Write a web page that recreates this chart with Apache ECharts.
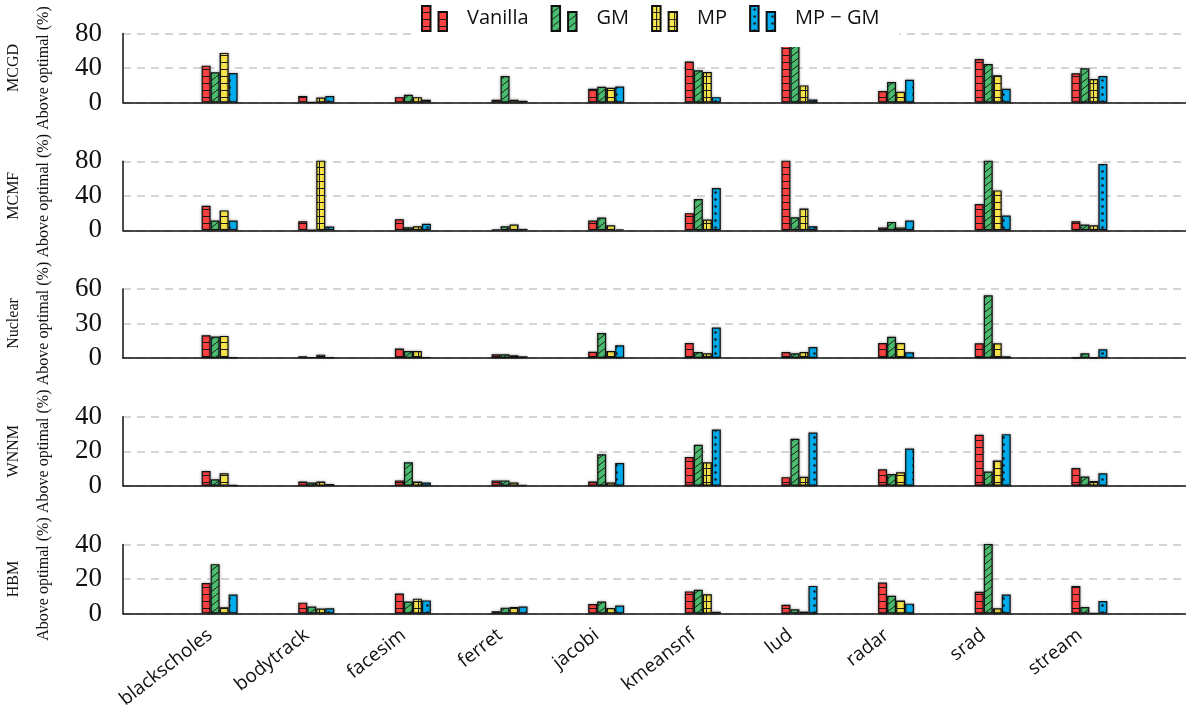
<!DOCTYPE html>
<html>
<head>
<meta charset="utf-8">
<script src="https://cdn.jsdelivr.net/npm/echarts@6/dist/echarts.min.js"></script>
<style>
html, body { margin: 0; padding: 0; background: #fff; }
#chart { width: 1186px; height: 706px; }
</style>
</head>
<body>
<div id="chart"></div>
<script>
const benchmarks = ['blackscholes', 'bodytrack', 'facesim', 'ferret', 'jacobi',
  'kmeansnf', 'lud', 'radar', 'srad', 'stream']
const panelNames = ['MCGD', 'MCMF', 'Nuclear', 'WNNM', 'HBM']
const yMax = [80, 80, 60, 40, 40]
const yStep = [40, 40, 30, 20, 20]
const methods = ['Vanilla', 'GM', 'MP', 'MP − GM']

// MCGD
const mcgdVanilla = [42.7, 7.4, 6.2, 3.1, 16, 47.4, 88, 13.2, 50.5, 33.8]
const mcgdGM      = [35, 0.3, 8.9, 30.7, 18.3, 37.3, 86, 23.7, 44.7, 39.6]
const mcgdMP      = [57.5, 5.8, 6.2, 3.1, 17, 35.3, 19.8, 12.4, 31.5, 27.2]
const mcgdMPGM    = [34.2, 7.4, 3.1, 2, 18.6, 6.2, 3.5, 26.4, 16, 30.7]
// MCMF
const mcmfVanilla = [28.3, 10.5, 12.8, 0.8, 11.3, 19.8, 95, 3.1, 30.3, 10.5]
const mcmfGM      = [11.3, 0.4, 3.5, 4.7, 14.8, 36.1, 15.1, 9.7, 95, 6.6]
const mcmfMP      = [23, 95, 4.7, 6.6, 5.8, 12.4, 25.2, 3.1, 46.2, 5.8]
const mcmfMPGM    = [11.3, 4.3, 7.4, 1.6, 1.2, 48.9, 4.7, 11.3, 17.1, 76.9]
// Nuclear
const nuclearVanilla = [19.8, 1.5, 8.2, 3.2, 5.5, 13.1, 5.2, 13.1, 12.8, 0.3]
const nuclearGM      = [18.6, 0.9, 6.1, 3.2, 21.8, 5.2, 4.1, 18.4, 54.5, 4.1]
const nuclearMP      = [19.2, 2.9, 6.1, 2.3, 6.1, 4.1, 5.2, 13.1, 12.8, 0.3]
const nuclearMPGM    = [0.6, 0.6, 0.9, 1.5, 11.1, 26.5, 9.6, 5, 1.5, 7.6]
// WNNM
const wnnmVanilla = [8.5, 2.5, 3.1, 3.1, 2.5, 16.7, 5, 9.5, 29.5, 10.3]
const wnnmGM      = [3.7, 1.9, 13.6, 3.1, 18.3, 23.7, 27.2, 6.8, 8.2, 5.4]
const wnnmMP      = [7.2, 2.5, 2.5, 1.9, 1.9, 13.6, 5.2, 7.8, 14.6, 2.7]
const wnnmMPGM    = [0.4, 1, 1.9, 0.6, 13.2, 32.6, 30.9, 21.6, 29.9, 7.2]
// HBM
const hbmVanilla = [17.7, 6.3, 11.6, 1.3, 5.5, 12.8, 5.1, 17.9, 12.6, 16]
const hbmGM      = [28.6, 4, 7, 3.4, 7, 13.7, 2.5, 10.3, 48, 3.8]
const hbmMP      = [3.6, 2.9, 8.6, 3.8, 3.2, 11.2, 1.1, 7.6, 3, 0.3]
const hbmMPGM    = [11, 3, 7.6, 4, 4.6, 1, 16, 5.7, 11, 7.2]

const panelData = [
  [mcgdVanilla, mcgdGM, mcgdMP, mcgdMPGM],
  [mcmfVanilla, mcmfGM, mcmfMP, mcmfMPGM],
  [nuclearVanilla, nuclearGM, nuclearMP, nuclearMPGM],
  [wnnmVanilla, wnnmGM, wnnmMP, wnnmMPGM],
  [hbmVanilla, hbmGM, hbmMP, hbmMPGM]
]

// hatch patterns
function makePattern(fill, kind) {
  const c = document.createElement('canvas')
  c.width = 9
  c.height = 7
  const ctx = c.getContext('2d')
  ctx.fillStyle = fill
  ctx.fillRect(0, 0, 9, 7)
  ctx.strokeStyle = '#1a1a1a'
  ctx.fillStyle = '#1a1a1a'
  ctx.lineWidth = 1
  if (kind === 'hlines') {
    ctx.beginPath(); ctx.moveTo(0, 6.5); ctx.lineTo(9, 6.5); ctx.stroke()
  } else if (kind === 'grid') {
    ctx.beginPath(); ctx.moveTo(0, 6.5); ctx.lineTo(9, 6.5); ctx.stroke()
    ctx.beginPath(); ctx.moveTo(4.5, 0); ctx.lineTo(4.5, 7); ctx.stroke()
  } else if (kind === 'diag') {
    ctx.beginPath(); ctx.moveTo(0, 7); ctx.lineTo(9, 0); ctx.stroke()
  } else if (kind === 'dots') {
    ctx.beginPath(); ctx.arc(4.5, 3.5, 1.3, 0, Math.PI * 2); ctx.fill()
  }
  return c
}
const fills = [
  makePattern('#ff4242', 'hlines'),
  makePattern('#4cbf70', 'diag'),
  makePattern('#f9e84c', 'grid'),
  makePattern('#00aeef', 'dots')
]

const top0 = 33.5
const step = 127.75
const plotH = 69

const grid = [], xAxis = [], yAxis = [], series = [], graphic = []
panelNames.forEach((name, p) => {
  const last = p === panelNames.length - 1
  // outerBoundsMode none: keep the plot box fixed, labels may go near the edge
  grid.push({left: 123, right: 0, top: top0 + p * step, height: plotH, outerBoundsMode: 'none'})
  xAxis.push({
    type: 'value',
    gridIndex: p,
    min: 0,
    max: 11,
    interval: 1,
    axisLine: {lineStyle: {color: '#111', width: 1.5}},
    axisTick: {show: false},
    splitLine: {show: false},
    axisLabel: {
      show: last,
      rotate: 38,
      margin: 12,
      padding: [0, 12, 0, 0],
      fontFamily: 'Open Sans',
      fontSize: 19,
      color: '#111',
      formatter: v => benchmarks[v - 1] || ''
    }
  })
  yAxis.push({
    type: 'value',
    gridIndex: p,
    min: 0,
    max: yMax[p],
    interval: yStep[p],
    name: 'Above optimal (%)',
    nameLocation: 'middle',
    nameGap: 71,
    nameTextStyle: {fontFamily: 'Liberation Serif', fontSize: 16, color: '#111'},
    axisLine: {show: true, lineStyle: {color: '#111', width: 1.5}},
    axisTick: {show: false},
    axisLabel: {fontFamily: 'Liberation Serif', fontSize: 27, color: '#111', margin: 21},
    splitLine: {lineStyle: {type: [8, 6], color: '#c8c8c8', width: 1.5}}
  })
  graphic.push({
    type: 'text',
    x: 13.5,
    y: top0 + p * step + plotH / 2,
    rotation: Math.PI / 2,
    style: {
      text: name,
      fontFamily: 'Liberation Serif',
      fontSize: 16,
      fill: '#111',
      align: 'center',
      verticalAlign: 'middle'
    }
  })
  panelData[p].forEach((arr, m) => {
    series.push({
      type: 'bar',
      name: methods[m],
      xAxisIndex: p,
      yAxisIndex: p,
      barWidth: 9,
      barGap: '0%',
      data: arr.map((v, i) => [i + 1, v]),
      itemStyle: {
        color: {image: fills[m], repeat: 'repeat'},
        borderColor: '#111',
        borderWidth: 1.2,
        shadowColor: 'rgba(0,0,0,0.3)',
        shadowBlur: 3
      }
    })
  })
})

const myChart = echarts.init(document.getElementById('chart'))
myChart.setOption({
  animation: false,
  backgroundColor: '#fff',
  legend: {
    data: methods,
    left: 412,
    top: 0,
    padding: [5, 20, 15, 9],
    backgroundColor: '#fff',
    itemWidth: 25,
    itemHeight: 25,
    itemGap: 22,
    icon: 'path://M0,0h8.5v25h-8.5z M16.5,6h8.5v19h-8.5z',
    textStyle: {fontFamily: 'Open Sans', fontSize: 20, color: '#111', padding: [0, 0, 0, 15]}
  },
  grid,
  xAxis,
  yAxis,
  series,
  graphic
})
</script>
</body>
</html>
